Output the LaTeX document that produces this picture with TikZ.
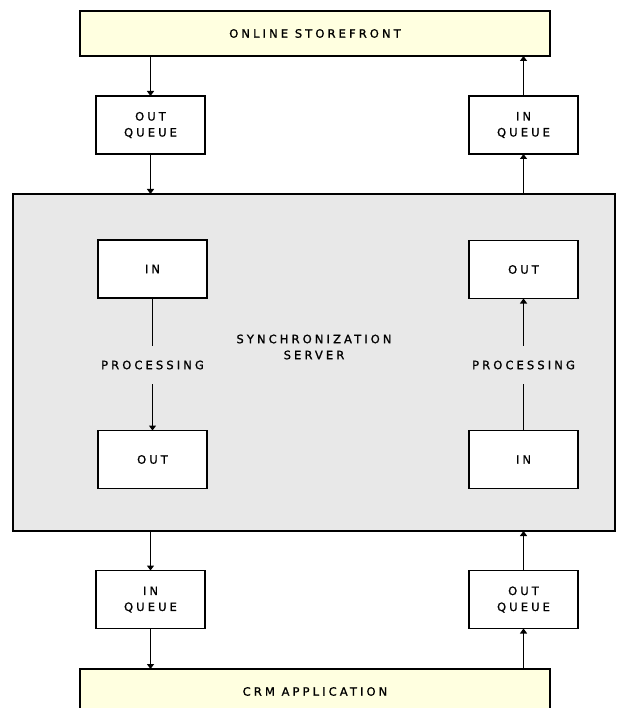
\documentclass[tikz,border=0pt]{standalone}
\usepackage{fontspec}
\newfontfamily\pixfont{DejaVu Sans}[LetterSpace=27, FakeBold=1.2]
\usetikzlibrary{arrows.meta}
\definecolor{appfill}{RGB}{255,255,224}
\definecolor{srvfill}{RGB}{232,232,232}
\begin{document}
\begin{tikzpicture}[x=1pt, y=-1pt,
    every node/.style={font=\pixfont\fontsize{11.5}{16}\selectfont, align=center, inner sep=0pt, outer sep=0pt},
    app/.style={draw, line width=1.8pt, fill=appfill, minimum width=470pt, minimum height=45pt},
    srv/.style={draw, line width=1.8pt, fill=srvfill, minimum width=602pt, minimum height=337pt},
    qbox/.style={draw, line width=1.8pt, fill=white, minimum width=109pt, minimum height=58pt},
    flow/.style={line width=1.5pt, -{Triangle[width=7pt,length=5pt]}},
    link/.style={line width=1.5pt}]
    \useasboundingbox (0,0) rectangle (630,708);
    % applications
    \node[app] (store) at (315,33.5) {ONLINE STOREFRONT};
    \node[app] (crm) at (315,691.5) {CRM APPLICATION};
    % server
    \node[srv] (server) at (314,362.5) {};
    \node (sync) at (314,347) {SYNCHRONIZATION\\SERVER};
    % queues
    \node[qbox] (storeout) at (150.5,125) {OUT\\QUEUE};
    \node[qbox] (storein) at (523.5,125) {IN\\QUEUE};
    \node[qbox] (crmin) at (150.5,599.5) {IN\\QUEUE};
    \node[qbox] (crmout) at (523.5,599.5) {OUT\\QUEUE};
    % inside the server
    \node[qbox] (leftin) at (152.5,269) {IN};
    \node[qbox] (leftout) at (152.5,459.5) {OUT};
    \node[qbox] (rightout) at (523.5,269.5) {OUT};
    \node[qbox] (rightin) at (523.5,459.5) {IN};
    \node[inner sep=15pt] (leftproc) at (152.5,365) {PROCESSING};
    \node[inner sep=15pt] (rightproc) at (523.5,365) {PROCESSING};
    % storefront to crm
    \draw[flow] (store.south -| storeout) -- (storeout.north);
    \draw[flow] (storeout.south) -- (storeout.south |- server.north);
    \draw[link] (leftin.south) -- (leftproc.north);
    \draw[flow] (leftproc.south) -- (leftout.north);
    \draw[flow] (server.south -| crmin) -- (crmin.north);
    \draw[flow] (crmin.south) -- (crmin.south |- crm.north);
    % crm to storefront
    \draw[flow] (crm.north -| crmout) -- (crmout.south);
    \draw[flow] (crmout.north) -- (crmout.north |- server.south);
    \draw[link] (rightin.north) -- (rightproc.south);
    \draw[flow] (rightproc.north) -- (rightout.south);
    \draw[flow] (server.north -| storein) -- (storein.south);
    \draw[flow] (storein.north) -- (storein.north |- store.south);
\end{tikzpicture}
\end{document}
